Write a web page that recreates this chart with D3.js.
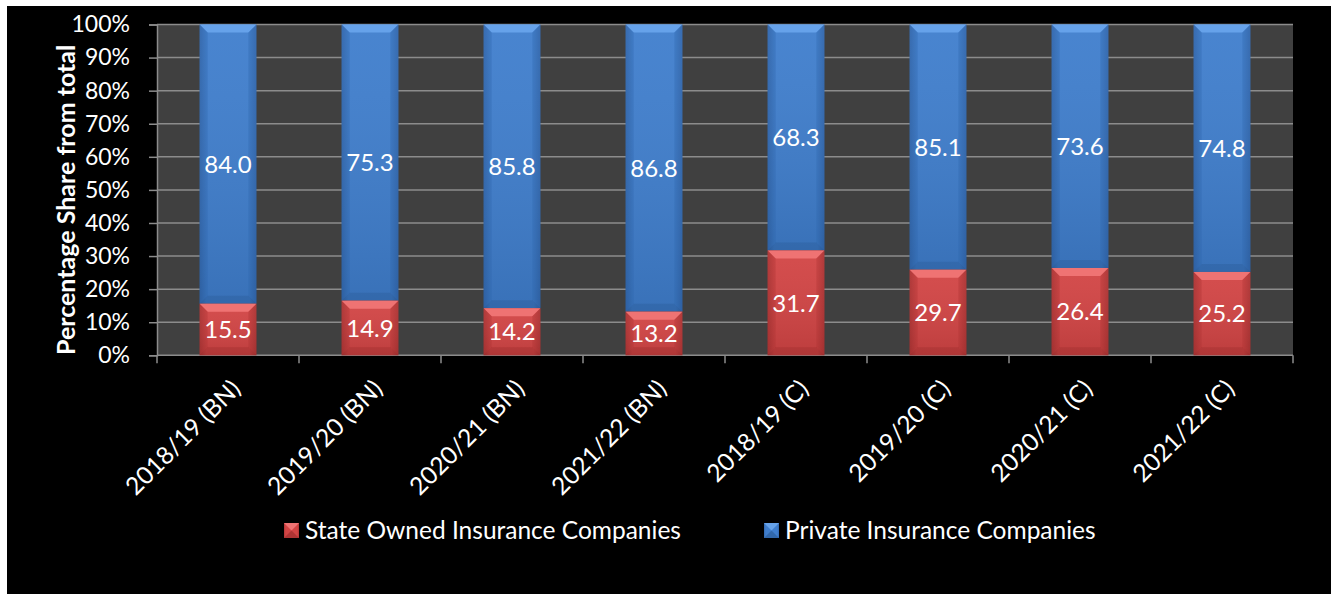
<!DOCTYPE html>
<html>
<head>
<meta charset="utf-8">
<script src="https://cdn.jsdelivr.net/npm/d3@7"></script>
<style>
  html, body { margin: 0; padding: 0; background: #ffffff; }
  svg { display: block; }
  text { font-family: Lato, "Open Sans", sans-serif; fill: #ffffff; }
</style>
</head>
<body>
<svg id="chart" width="1336" height="594"></svg>
<script>
// Categories (year and basis) and the two series shown as shares of the total
const categories = ["2018/19 (BN)", "2019/20 (BN)", "2020/21 (BN)", "2021/22 (BN)",
                    "2018/19 (C)", "2019/20 (C)", "2020/21 (C)", "2021/22 (C)"];
const stateOwned = [15.5, 14.9, 14.2, 13.2, 31.7, 29.7, 26.4, 25.2];
const privateCos = [84.0, 75.3, 85.8, 86.8, 68.3, 85.1, 73.6, 74.8];
const seriesNames = ["State Owned Insurance Companies", "Private Insurance Companies"];
const yTicks = [0, 0.1, 0.2, 0.3, 0.4, 0.5, 0.6, 0.7, 0.8, 0.9, 1.0];
const yTitle = "Percentage Share from total";

const svg = d3.select("#chart");
const H = 594;

// outer dark panel
svg.append("rect").attr("x", 7).attr("y", 6).attr("width", 1324).attr("height", H - 6).attr("fill", "#000000");

const plot = { left: 157, top: 24.5, right: 1293, bottom: 355.3 };

const x = d3.scaleBand().domain(categories).range([plot.left, plot.right]).paddingInner(0.6).paddingOuter(0.3);
const xBand = d3.scaleBand().domain(categories).range([plot.left, plot.right]);
const y = d3.scaleLinear().domain([0, 1]).range([plot.bottom, plot.top]);

// 100% stacked table
const rows = categories.map((c, i) => {
  const total = stateOwned[i] + privateCos[i];
  return { cat: c, s: stateOwned[i], p: privateCos[i], sShare: stateOwned[i] / total };
});

// gradients
const defs = svg.append("defs");
function sideGradient(id, edge, mid) {
  const g = defs.append("linearGradient").attr("id", id).attr("x1", 0).attr("x2", 1).attr("y1", 0).attr("y2", 0);
  g.append("stop").attr("offset", "0%").attr("stop-color", edge);
  g.append("stop").attr("offset", "12%").attr("stop-color", mid);
  g.append("stop").attr("offset", "88%").attr("stop-color", mid);
  g.append("stop").attr("offset", "100%").attr("stop-color", edge);
}
sideGradient("gBlue", "#3469b0", "#3f7ecd");
sideGradient("gRed", "#b03636", "#d24444");
const shade = defs.append("linearGradient").attr("id", "shade").attr("x1", 0).attr("x2", 0).attr("y1", 0).attr("y2", 1);
shade.append("stop").attr("offset", "0%").attr("stop-color", "#ffffff").attr("stop-opacity", 0.05);
shade.append("stop").attr("offset", "100%").attr("stop-color", "#000000").attr("stop-opacity", 0.10);

// plot background
svg.append("rect").attr("x", plot.left).attr("y", plot.top)
  .attr("width", plot.right - plot.left).attr("height", plot.bottom - plot.top)
  .attr("fill", "#404040");

// horizontal gridlines
svg.append("g").selectAll("line").data(yTicks.slice(1)).join("line")
  .attr("x1", plot.left).attr("x2", plot.right)
  .attr("y1", d => y(d)).attr("y2", d => y(d))
  .attr("stroke", "#8c8c8c").attr("stroke-width", 1.5);

// y axis
const yAxis = d3.axisLeft(y).tickValues(yTicks).tickFormat(d3.format(".0%")).tickSize(8).tickPadding(19);
const gy = svg.append("g").attr("transform", `translate(${plot.left},0)`).call(yAxis);
gy.select(".domain").attr("stroke", "#8c8c8c").attr("stroke-width", 1.5);
gy.selectAll(".tick line").attr("stroke", "#8c8c8c").attr("stroke-width", 1.5);
gy.selectAll(".tick text").attr("fill", "#ffffff").style("font-size", "23px").style("font-family", "Lato, sans-serif");

// x axis (ticks at band boundaries)
const gx = svg.append("g");
gx.append("line").attr("x1", plot.left).attr("x2", plot.right).attr("y1", plot.bottom).attr("y2", plot.bottom)
  .attr("stroke", "#8c8c8c").attr("stroke-width", 1.5);
const boundaries = categories.map(c => xBand(c)).concat([plot.right]);
gx.selectAll("line.tk").data(boundaries).join("line").attr("class", "tk")
  .attr("x1", d => d).attr("x2", d => d).attr("y1", plot.bottom).attr("y2", plot.bottom + 8)
  .attr("stroke", "#8c8c8c").attr("stroke-width", 1.5);
gx.selectAll("text").data(categories).join("text")
  .attr("transform", d => `translate(${xBand(d) + xBand.bandwidth() / 2 + 8},${plot.bottom + 29}) rotate(-45)`)
  .attr("text-anchor", "end")
  .attr("dy", "0.35em")
  .style("font-size", "24.5px")
  .text(d => d);

// bevelled segment
function segment(g, x0, w, yTop, yBot, fillId, bevelTop, bevelSide, bottomEdge) {
  const b = Math.min(8, (yBot - yTop) / 2);
  g.append("rect").attr("x", x0).attr("y", yTop).attr("width", w).attr("height", yBot - yTop).attr("fill", `url(#${fillId})`);
  g.append("rect").attr("x", x0).attr("y", yTop).attr("width", w).attr("height", yBot - yTop).attr("fill", "url(#shade)");
  g.append("path").attr("d", `M${x0},${yTop} L${x0 + w},${yTop} L${x0 + w - b},${yTop + b} L${x0 + b},${yTop + b} Z`).attr("fill", bevelTop);
  g.append("path").attr("d", `M${x0},${yTop} L${x0 + b},${yTop + b} L${x0 + b},${yBot - b} L${x0},${yBot} Z`).attr("fill", bevelSide).attr("opacity", 0.35);
  g.append("path").attr("d", `M${x0 + w},${yTop} L${x0 + w - b},${yTop + b} L${x0 + w - b},${yBot - b} L${x0 + w},${yBot} Z`).attr("fill", bevelSide).attr("opacity", 0.35);
  g.append("path").attr("d", `M${x0},${yBot} L${x0 + w},${yBot} L${x0 + w - b},${yBot - b} L${x0 + b},${yBot - b} Z`).attr("fill", bottomEdge).attr("opacity", 0.25);
}

const bars = svg.append("g");
rows.forEach(r => {
  const x0 = x(r.cat), w = x.bandwidth();
  const g = bars.append("g");
  segment(g, x0, w, y(1), y(r.sShare), "gBlue", "#66a2ea", "#2e63a8", "#244f88");
  segment(g, x0, w, y(r.sShare), y(0), "gRed", "#ef7373", "#a93030", "#8a2424");
});

// value labels
const labels = svg.append("g").style("font-size", "24px").attr("text-anchor", "middle");
rows.forEach(r => {
  const cx = x(r.cat) + x.bandwidth() / 2;
  labels.append("text").attr("x", cx).attr("y", (y(1) + y(r.sShare)) / 2).attr("dy", "0.36em").text(r.p.toFixed(1));
  labels.append("text").attr("x", cx).attr("y", (y(r.sShare) + y(0)) / 2).attr("dy", "0.36em").text(r.s.toFixed(1));
});

// y title
svg.append("text")
  .attr("transform", `translate(66,${(plot.top + plot.bottom) / 2 + 10}) rotate(-90)`)
  .attr("text-anchor", "middle")
  .attr("dy", "0.35em")
  .style("font-size", "25px").style("font-weight", "bold")
  .text(yTitle);

// legend
const legend = svg.append("g");
const legendItems = [
  { name: seriesNames[0], x: 284, fill: "gRed", top: "#ef7373", bot: "#8a2424" },
  { name: seriesNames[1], x: 764, fill: "gBlue", top: "#66a2ea", bot: "#244f88" }
];
legendItems.forEach(it => {
  const g = legend.append("g");
  const s = 15, ly = 523;
  g.append("rect").attr("x", it.x).attr("y", ly).attr("width", s).attr("height", s).attr("fill", `url(#${it.fill})`);
  g.append("path").attr("d", `M${it.x},${ly} L${it.x + s},${ly} L${it.x + s / 2},${ly + s / 2} Z`).attr("fill", it.top);
  g.append("path").attr("d", `M${it.x},${ly + s} L${it.x + s},${ly + s} L${it.x + s / 2},${ly + s / 2} Z`).attr("fill", it.bot).attr("opacity", 0.5);
  g.append("text").attr("x", it.x + s + 6).attr("y", ly + s / 2).attr("dy", "0.36em")
    .style("font-size", "24.5px").text(it.name);
});
</script>
</body>
</html>
